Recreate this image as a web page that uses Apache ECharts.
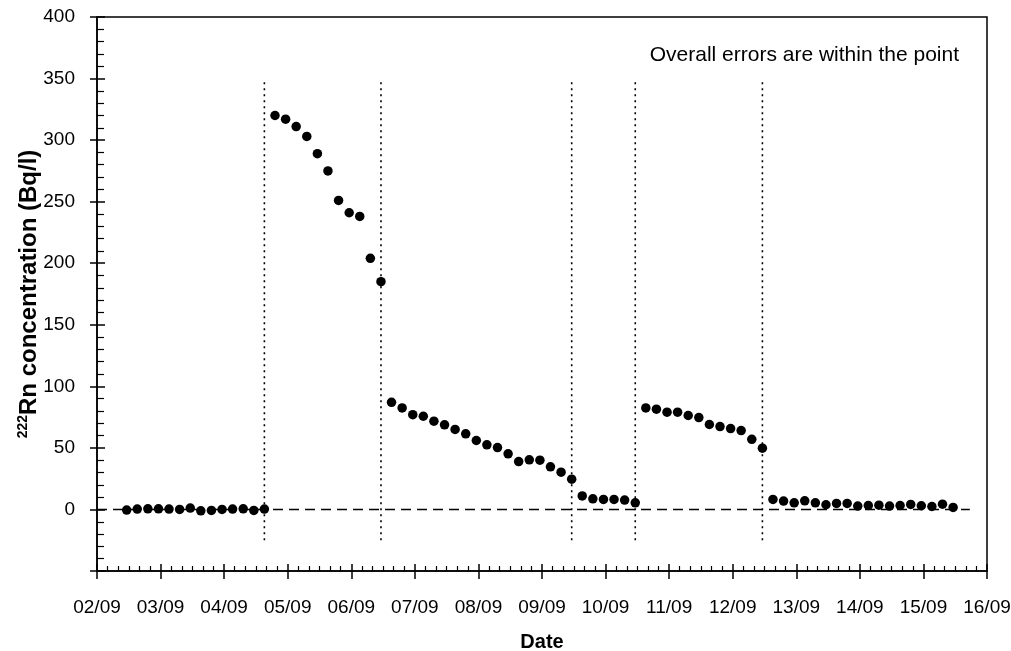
<!DOCTYPE html>
<html>
<head>
<meta charset="utf-8">
<script src="https://cdn.jsdelivr.net/npm/echarts@6/dist/echarts.min.js"></script>
<style>
html,body{margin:0;padding:0;background:#fff;}
#chart{width:1011px;height:651px;}
</style>
</head>
<body>
<div id="chart"></div>
<script>
// Sampling times (day of September, fractional)
const sampleDays = [
  2.467,2.633,2.800,2.967,3.133,3.300,3.467,3.633,3.800,3.967,4.133,4.300,4.467,4.633,
  4.800,4.967,5.133,5.300,5.467,5.633,5.800,5.967,6.133,6.300,6.467,
  6.633,6.800,6.967,7.133,7.300,7.467,7.633,7.800,7.967,8.133,8.300,8.467,8.633,8.800,8.967,9.133,9.300,9.467,
  9.633,9.800,9.967,10.133,10.300,10.467,
  10.633,10.800,10.967,11.133,11.300,11.467,11.633,11.800,11.967,12.133,12.300,12.467,
  12.633,12.800,12.967,13.133,13.300,13.467,13.633,13.800,13.967,14.133,14.300,14.467,14.633,14.800,14.967,15.133,15.300,15.467
];
// 222Rn concentration (Bq/l)
const rnConc = [
  -0.5,0.3,0.5,0.5,0.3,0,1.1,-1.1,-0.8,0,0.3,0.5,-0.8,0.3,
  320,317,311,303,289,275,251,241,238,204,185,
  87,82.5,77,75.7,71.7,68.7,65,61.4,56,52.5,50.3,45.2,38.9,40.3,40,34.6,30.3,24.6,
  11,8.6,8.1,8.1,7.6,5.4,
  82.5,81.4,79,79,76.3,74.6,69,67.3,65.7,64.1,57,49.8,
  8.1,6.8,5.4,7.0,5.4,3.8,4.9,4.9,2.7,3.2,3.5,2.7,3.2,4.1,3.0,2.4,4.3,1.6
];
// Vertical dotted separators (day) and their vertical extent (Bq/l)
const separatorDays = [4.633, 6.467, 9.467, 10.467, 12.467];
const separatorRange = [-25, 350];
// Zero reference line extent (day)
const zeroLineDays = [2.0, 15.73];

const xAxisTicks = {min: 2, max: 16, interval: 1};
const yAxisTicks = {min: -50, max: 400, interval: 50};

const FONT = '"Liberation Sans", Arial, sans-serif';

const chart = echarts.init(document.getElementById('chart'), null, {renderer: 'canvas'});

const points = sampleDays.map((d, i) => [d, rnConc[i]]);

const series = [];
separatorDays.forEach(d => {
  series.push({
    type: 'line', xAxisIndex: 0, yAxisIndex: 0,
    data: [[d, separatorRange[0]], [d, separatorRange[1]]],
    symbol: 'none', silent: true,
    lineStyle: {color: '#000', width: 1.6, type: [2, 4]}
  });
});
series.push({
  type: 'line', xAxisIndex: 0, yAxisIndex: 0,
  data: [[zeroLineDays[0], 0], [zeroLineDays[1], 0]],
  symbol: 'none', silent: true,
  lineStyle: {color: '#000', width: 1.5, type: [10, 6]}
});
series.push({
  type: 'scatter', xAxisIndex: 0, yAxisIndex: 0,
  data: points, symbol: 'circle', symbolSize: 9.5,
  itemStyle: {color: '#000', opacity: 1}
});

const dayFmt = v => (v < 10 ? '0' + v : '' + v) + '/09';

chart.setOption({
  animation: false,
  backgroundColor: '#fff',
  grid: {left: 97, right: 24, top: 17, bottom: 80, show: true, borderColor: '#000', borderWidth: 1.5,
         containLabel: false, outerBoundsMode: 'none'},
  title: {
    text: 'Overall errors are within the point',
    right: 47, top: 40,
    textStyle: {fontFamily: FONT, fontSize: 21, fontWeight: 'normal', color: '#000'}
  },
  xAxis: [{
    type: 'value', min: xAxisTicks.min, max: xAxisTicks.max, interval: xAxisTicks.interval,
    position: 'bottom',
    axisLine: {show: true, onZero: false, lineStyle: {color: '#000', width: 1.5}},
    axisTick: {show: true, inside: true, length: 7, lineStyle: {color: '#000', width: 1.5}},
    minorTick: {show: true, splitNumber: 6, length: 5, lineStyle: {color: '#000', width: 1.2}},
    splitLine: {show: false},
    axisLabel: {formatter: dayFmt, margin: 27, color: '#000', fontFamily: FONT, fontSize: 19},
    name: 'Date', nameLocation: 'middle', nameGap: 61, nameMoveOverlap: false,
    nameTextStyle: {fontFamily: FONT, fontSize: 20, fontWeight: 'bold', color: '#000'}
  }, {
    type: 'value', min: xAxisTicks.min, max: xAxisTicks.max, interval: xAxisTicks.interval,
    position: 'bottom', offset: 0,
    axisLine: {show: false, onZero: false},
    axisTick: {show: true, inside: false, length: 8, lineStyle: {color: '#000', width: 1.5}},
    axisLabel: {show: false}, splitLine: {show: false}
  }],
  yAxis: [{
    type: 'value', min: yAxisTicks.min, max: yAxisTicks.max, interval: yAxisTicks.interval,
    position: 'left',
    axisLine: {show: true, onZero: false, lineStyle: {color: '#000', width: 1.5}},
    axisTick: {show: true, inside: true, length: 8, lineStyle: {color: '#000', width: 1.5}},
    minorTick: {show: true, splitNumber: 5, length: 7, lineStyle: {color: '#000', width: 1.2}},
    splitLine: {show: false},
    axisLabel: {formatter: v => (v < 0 ? '' : '' + v), margin: 22, color: '#000', fontFamily: FONT, fontSize: 19},
    name: '{sup|222}{main|Rn concentration (Bq/l)}',
    nameLocation: 'middle', nameRotate: 90, nameGap: 55, nameMoveOverlap: false,
    nameTextStyle: {
      color: '#000',
      rich: {
        sup: {fontFamily: FONT, fontSize: 14, fontWeight: 'bold', color: '#000', verticalAlign: 'top', lineHeight: 26},
        main: {fontFamily: FONT, fontSize: 24, fontWeight: 'bold', color: '#000', lineHeight: 26}
      }
    }
  }, {
    type: 'value', min: yAxisTicks.min, max: yAxisTicks.max, interval: yAxisTicks.interval,
    position: 'left', offset: 0,
    axisLine: {show: false, onZero: false},
    axisTick: {show: true, inside: false, length: 7, lineStyle: {color: '#000', width: 1.5}},
    axisLabel: {show: false}, splitLine: {show: false}
  }],
  series: series
});
</script>
</body>
</html>
